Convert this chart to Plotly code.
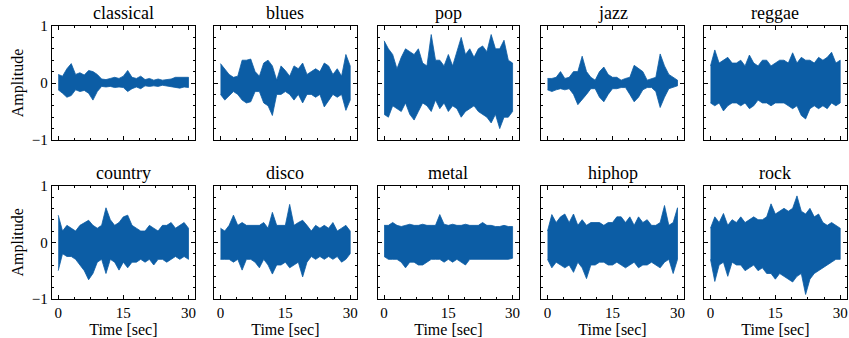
import plotly.graph_objects as go

time_s = list(range(31))
genres = ["classical", "blues", "pop", "jazz", "reggae",
          "country", "disco", "metal", "hiphop", "rock"]

classical_upper = [0.15, 0.12, 0.25, 0.34, 0.15, 0.18, 0.14, 0.22, 0.2, 0.15, 0.07, 0.06, 0.08, 0.1, 0.08, 0.12, 0.22, 0.1, 0.08, 0.12, 0.06, 0.08, 0.05, 0.07, 0.05, 0.06, 0.07, 0.1, 0.1, 0.09, 0.1]
classical_lower = [-0.12, -0.18, -0.25, -0.22, -0.12, -0.15, -0.13, -0.18, -0.3, -0.15, -0.06, -0.07, -0.06, -0.08, -0.07, -0.08, -0.15, -0.1, -0.07, -0.1, -0.05, -0.06, -0.05, -0.06, -0.04, -0.05, -0.06, -0.08, -0.09, -0.07, -0.08]
blues_upper = [0.34, 0.25, 0.15, 0.1, 0.12, 0.4, 0.4, 0.42, 0.2, 0.12, 0.35, 0.4, 0.3, 0.05, 0.3, 0.22, 0.12, 0.3, 0.25, 0.35, 0.15, 0.2, 0.25, 0.2, 0.35, 0.3, 0.15, 0.25, 0.12, 0.5, 0.3]
blues_lower = [-0.2, -0.3, -0.22, -0.15, -0.2, -0.3, -0.35, -0.33, -0.15, -0.15, -0.35, -0.4, -0.57, -0.2, -0.2, -0.15, -0.2, -0.3, -0.2, -0.35, -0.2, -0.2, -0.25, -0.2, -0.42, -0.3, -0.2, -0.25, -0.2, -0.48, -0.3]
pop_upper = [0.74, 0.6, 0.5, 0.25, 0.45, 0.6, 0.55, 0.5, 0.6, 0.35, 0.3, 0.85, 0.4, 0.4, 0.3, 0.5, 0.3, 0.55, 0.8, 0.5, 0.6, 0.45, 0.6, 0.65, 0.55, 0.85, 0.6, 0.6, 0.75, 0.4, 0.35]
pop_lower = [-0.55, -0.6, -0.4, -0.45, -0.5, -0.35, -0.55, -0.65, -0.5, -0.35, -0.4, -0.5, -0.3, -0.45, -0.35, -0.5, -0.4, -0.45, -0.6, -0.5, -0.45, -0.4, -0.5, -0.55, -0.6, -0.7, -0.55, -0.8, -0.6, -0.6, -0.5]
jazz_upper = [0.08, 0.08, 0.1, 0.2, 0.08, 0.1, 0.2, 0.2, 0.47, 0.2, 0.1, 0.05, 0.2, 0.28, 0.15, 0.1, 0.1, 0.05, 0.08, 0.1, 0.31, 0.25, 0.2, 0.05, 0.08, 0.1, 0.51, 0.3, 0.15, 0.1, 0.05]
jazz_lower = [-0.12, -0.15, -0.12, -0.1, -0.12, -0.1, -0.2, -0.38, -0.3, -0.2, -0.1, -0.1, -0.25, -0.33, -0.2, -0.1, -0.1, -0.08, -0.08, -0.2, -0.33, -0.25, -0.12, -0.08, -0.08, -0.15, -0.43, -0.25, -0.1, -0.08, -0.05]
reggae_upper = [0.3, 0.58, 0.35, 0.4, 0.45, 0.35, 0.35, 0.4, 0.3, 0.49, 0.35, 0.3, 0.4, 0.4, 0.3, 0.35, 0.4, 0.4, 0.35, 0.53, 0.35, 0.45, 0.4, 0.4, 0.35, 0.45, 0.4, 0.45, 0.54, 0.35, 0.4]
reggae_lower = [-0.35, -0.4, -0.35, -0.49, -0.4, -0.35, -0.35, -0.4, -0.35, -0.45, -0.4, -0.3, -0.35, -0.35, -0.4, -0.35, -0.35, -0.35, -0.4, -0.45, -0.4, -0.57, -0.63, -0.45, -0.4, -0.45, -0.4, -0.45, -0.35, -0.4, -0.35]
country_upper = [0.48, 0.2, 0.3, 0.25, 0.2, 0.3, 0.35, 0.39, 0.3, 0.25, 0.3, 0.61, 0.4, 0.3, 0.35, 0.45, 0.48, 0.3, 0.25, 0.2, 0.2, 0.3, 0.25, 0.2, 0.3, 0.3, 0.35, 0.25, 0.3, 0.35, 0.25]
country_lower = [-0.5, -0.2, -0.25, -0.25, -0.3, -0.4, -0.5, -0.66, -0.55, -0.35, -0.3, -0.55, -0.3, -0.35, -0.49, -0.35, -0.45, -0.35, -0.35, -0.3, -0.35, -0.3, -0.4, -0.3, -0.3, -0.35, -0.3, -0.25, -0.3, -0.25, -0.3]
disco_upper = [0.25, 0.2, 0.3, 0.48, 0.3, 0.35, 0.3, 0.3, 0.3, 0.3, 0.35, 0.25, 0.53, 0.3, 0.3, 0.3, 0.67, 0.3, 0.35, 0.39, 0.3, 0.2, 0.3, 0.25, 0.3, 0.25, 0.35, 0.2, 0.25, 0.3, 0.2]
disco_lower = [-0.3, -0.3, -0.3, -0.35, -0.3, -0.49, -0.3, -0.3, -0.35, -0.45, -0.3, -0.4, -0.56, -0.4, -0.4, -0.35, -0.45, -0.4, -0.35, -0.61, -0.35, -0.25, -0.3, -0.25, -0.3, -0.25, -0.3, -0.25, -0.35, -0.3, -0.2]
metal_upper = [0.3, 0.3, 0.35, 0.3, 0.28, 0.3, 0.32, 0.3, 0.3, 0.32, 0.3, 0.3, 0.3, 0.49, 0.32, 0.3, 0.32, 0.3, 0.3, 0.32, 0.3, 0.3, 0.3, 0.35, 0.3, 0.3, 0.28, 0.28, 0.3, 0.28, 0.28]
metal_lower = [-0.25, -0.3, -0.3, -0.3, -0.35, -0.45, -0.35, -0.35, -0.4, -0.4, -0.35, -0.3, -0.3, -0.3, -0.35, -0.3, -0.35, -0.3, -0.35, -0.4, -0.3, -0.3, -0.3, -0.3, -0.3, -0.3, -0.3, -0.3, -0.3, -0.3, -0.28]
hiphop_upper = [0.2, 0.49, 0.35, 0.45, 0.5, 0.35, 0.5, 0.3, 0.4, 0.3, 0.35, 0.35, 0.35, 0.3, 0.35, 0.35, 0.45, 0.45, 0.35, 0.45, 0.3, 0.45, 0.35, 0.4, 0.3, 0.3, 0.35, 0.65, 0.3, 0.35, 0.61]
hiphop_lower = [-0.3, -0.45, -0.35, -0.4, -0.45, -0.4, -0.53, -0.35, -0.45, -0.64, -0.4, -0.4, -0.35, -0.35, -0.4, -0.4, -0.35, -0.4, -0.45, -0.4, -0.35, -0.45, -0.4, -0.4, -0.35, -0.4, -0.45, -0.35, -0.3, -0.55, -0.3]
rock_upper = [0.25, 0.45, 0.35, 0.51, 0.3, 0.4, 0.35, 0.45, 0.35, 0.4, 0.45, 0.4, 0.4, 0.45, 0.68, 0.5, 0.55, 0.6, 0.55, 0.6, 0.82, 0.55, 0.5, 0.6, 0.45, 0.5, 0.35, 0.3, 0.35, 0.3, 0.25]
rock_lower = [-0.3, -0.69, -0.4, -0.35, -0.6, -0.35, -0.4, -0.4, -0.5, -0.45, -0.4, -0.5, -0.45, -0.55, -0.55, -0.65, -0.55, -0.6, -0.65, -0.7, -0.6, -0.55, -0.92, -0.65, -0.55, -0.5, -0.45, -0.4, -0.35, -0.3, -0.3]

uppers = [classical_upper, blues_upper, pop_upper, jazz_upper, reggae_upper,
          country_upper, disco_upper, metal_upper, hiphop_upper, rock_upper]
lowers = [classical_lower, blues_lower, pop_lower, jazz_lower, reggae_lower,
          country_lower, disco_lower, metal_lower, hiphop_lower, rock_lower]

W, H = 849, 338
col_px = [(51.7, 195), (214, 356.7), (377.7, 519), (541, 684), (704, 846.7)]
row_px = [(26, 140), (185.7, 299)]
BLUE = "#0C5DA5"
FONT = "Liberation Serif"

fig = go.Figure()
layout = dict(width=W, height=H, margin=dict(l=0, r=0, t=0, b=0, autoexpand=False),
              paper_bgcolor="white", plot_bgcolor="white", showlegend=False,
              font=dict(family=FONT, size=14, color="black"))
annotations = []
for i, g in enumerate(genres):
    r, c = divmod(i, 5)
    n = i + 1
    xa = "xaxis" if n == 1 else f"xaxis{n}"
    ya = "yaxis" if n == 1 else f"yaxis{n}"
    xr = "x" if n == 1 else f"x{n}"
    yr = "y" if n == 1 else f"y{n}"
    xs = time_s + time_s[::-1]
    ys = uppers[i] + lowers[i][::-1]
    fig.add_trace(go.Scatter(x=xs, y=ys, mode="lines", fill="toself",
                             fillcolor=BLUE, line=dict(color=BLUE, width=0.8),
                             xaxis=xr, yaxis=yr, hoverinfo="skip"))
    x0, x1 = col_px[c]
    yt, yb = row_px[r]
    common = dict(showline=True, mirror="allticks", linecolor="black", linewidth=1,
                  ticks="inside", ticklen=4, tickwidth=0.8, tickcolor="black",
                  showgrid=False, zeroline=False, automargin=False,
                  tickfont=dict(family=FONT, size=15, color="black"))
    layout[xa] = dict(common, domain=[x0 / W, x1 / W], range=[-1.5, 31.5],
                      tickvals=[0, 15, 30], ticktext=["0", "15", "30"],
                      showticklabels=(r == 1), anchor=yr,
                      minor=dict(tickvals=[3.75 * k for k in range(9)], ticks="inside",
                                 ticklen=2, tickwidth=0.6, tickcolor="black"),
                      title=dict(text="Time [sec]" if r == 1 else "",
                                 font=dict(family=FONT, size=16), standoff=0))
    layout[ya] = dict(common, domain=[1 - yb / H, 1 - yt / H], range=[-1, 1],
                      tickvals=[-1, 0, 1], ticktext=["\u22121", "0", "1"],
                      showticklabels=(c == 0), anchor=xr,
                      minor=dict(tickvals=[-1 + 0.2 * k for k in range(11)], ticks="inside",
                                 ticklen=2, tickwidth=0.6, tickcolor="black"),
                      title=dict(text="Amplitude" if c == 0 else "",
                                 font=dict(family=FONT, size=16), standoff=4))
    annotations.append(dict(text=g, x=(x0 + x1) / 2 / W, y=1 - yt / H,
                            xref="paper", yref="paper", xanchor="center", yanchor="bottom",
                            yshift=1, showarrow=False,
                            font=dict(family=FONT, size=18, color="black", weight="normal")))
layout["annotations"] = annotations
fig.update_layout(**layout)
fig.write_html("out.html", config={"displayModeBar": False},
               post_script="document.body.style.margin='0';document.body.style.padding='0';")
